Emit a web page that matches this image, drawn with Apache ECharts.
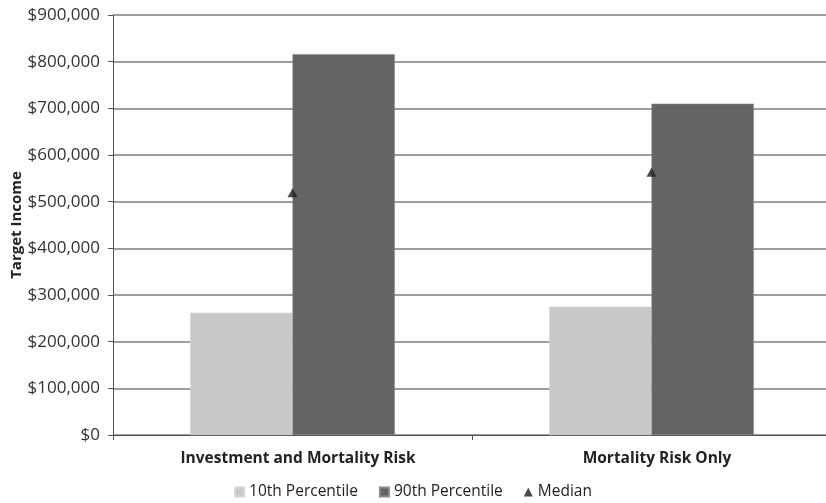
<!DOCTYPE html>
<html>
<head>
<meta charset="utf-8">
<script src="https://cdn.jsdelivr.net/npm/echarts@6/dist/echarts.min.js"></script>
<style>
  html, body { margin: 0; padding: 0; background: #fff; }
  #chart { width: 826px; height: 503px; }
</style>
</head>
<body>
<div id="chart"></div>
<script>
// Target income by risk scenario: 10th / 90th percentile bars with median markers
const categories = ['Investment and Mortality Risk', 'Mortality Risk Only'];
const p10 = [262000, 275000];
const p90 = [816000, 710000];
const median = [519000, 563000];
const yTicks = { min: 0, max: 900000, interval: 100000 };

const FONT = 'Open Sans';
const chart = echarts.init(document.getElementById('chart'), null, { renderer: 'canvas' });

const money = v => '$' + Number(v).toLocaleString('en-US');

chart.setOption({
  animation: false,
  backgroundColor: '#ffffff',
  textStyle: { fontFamily: FONT },
  grid: {
    left: 113, top: 15, width: 718, bottom: 68,
    containLabel: false,
    outerBoundsMode: 'none'
  },
  legend: {
    bottom: -2,
    left: 'center',
    itemWidth: 9,
    itemHeight: 9,
    itemGap: 21,
    textStyle: { fontFamily: FONT, fontSize: 15.5, color: '#222' },
    data: [
      { name: '10th Percentile', icon: 'rect' },
      { name: '90th Percentile', icon: 'rect' },
      { name: 'Median', icon: 'triangle' }
    ]
  },
  xAxis: {
    type: 'category',
    data: categories,
    axisLine: { lineStyle: { color: '#555', width: 1 } },
    axisTick: { show: true, length: 5, lineStyle: { color: '#555' } },
    axisLabel: {
      fontFamily: FONT, fontSize: 15.5, fontWeight: 'bold', color: '#222',
      margin: 16, padding: [0, 0, 0, 11]
    },
    splitLine: { show: false }
  },
  yAxis: {
    type: 'value',
    min: yTicks.min,
    max: yTicks.max,
    interval: yTicks.interval,
    name: 'Target Income',
    nameLocation: 'middle',
    nameGap: 89,
    nameMoveOverlap: false,
    nameTextStyle: { fontFamily: FONT, fontSize: 15, fontWeight: 'bold', color: '#222' },
    axisLine: { show: true, lineStyle: { color: '#555', width: 1 } },
    axisTick: { show: true, length: 5, lineStyle: { color: '#555' } },
    axisLabel: { fontFamily: FONT, fontSize: 17, color: '#333', margin: 13, formatter: money },
    splitLine: { show: true, lineStyle: { color: '#7e7e7e', width: 1.5 } }
  },
  series: [
    {
      name: '10th Percentile',
      type: 'bar',
      data: p10,
      barGap: '0%',
      barCategoryGap: '43%',
      itemStyle: { color: '#c8c9cb', borderColor: '#d4d5d7', borderWidth: 0.5 },
      z: 2
    },
    {
      name: '90th Percentile',
      type: 'bar',
      data: p90,
      barGap: '0%',
      barCategoryGap: '43%',
      itemStyle: { color: '#646466', borderColor: '#8a8a8c', borderWidth: 0.5 },
      z: 2
    },
    {
      name: 'Median',
      type: 'scatter',
      data: median,
      symbol: 'triangle',
      symbolSize: [10, 9],
      itemStyle: { color: '#1e1e1e' },
      z: 5
    }
  ]
});
</script>
</body>
</html>
